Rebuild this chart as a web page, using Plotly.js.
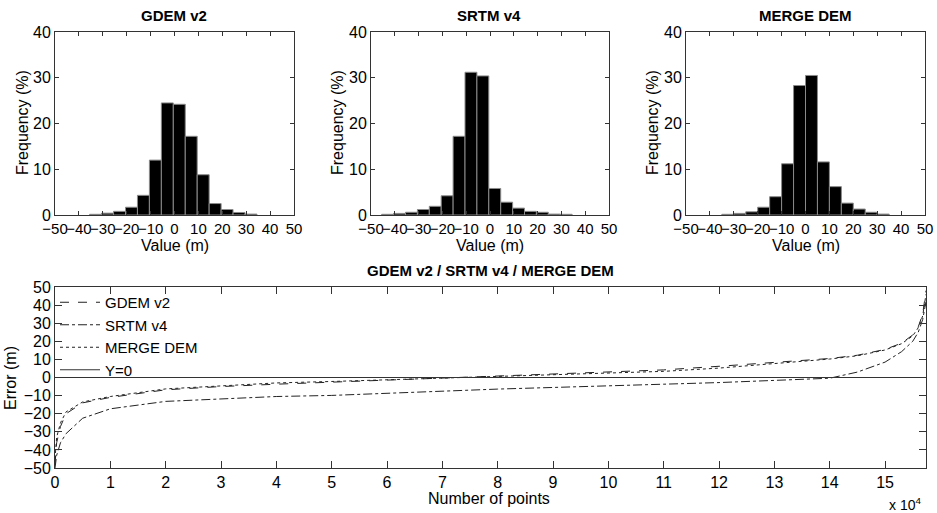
<!DOCTYPE html>
<html>
<head>
<meta charset="utf-8">
<script src="https://cdn.plot.ly/plotly-3.0.1.min.js"></script>
<style>html,body{margin:0;padding:0;background:#fff;}#chart{width:937px;height:513px;}</style>
</head>
<body>
<div id="chart"></div>
<script>
// ---- Histogram data (bin centres in m, frequency in %) ----
const gdemCenters = [-33,-28,-23,-18,-13,-8,-3,2,7,12,17,22,27,32];
const gdemFreq    = [0.15,0.4,0.8,1.7,4.3,12.0,24.5,24.2,17.2,8.8,2.5,1.2,0.55,0.2];
const srtmCenters = [-43,-38,-33,-28,-23,-18,-13,-8,-3,2,7,12,17,22,27,32];
const srtmFreq    = [0.15,0.35,0.6,1.2,1.9,4.2,17.2,31.2,30.4,5.8,2.8,1.5,0.8,0.6,0.2,0.15];
const mergeCenters = [-32.5,-27.5,-22.5,-17.5,-12.5,-7.5,-2.5,2.5,7.5,12.5,17.5,22.5,27.5,32.5];
const mergeFreq    = [0.15,0.35,0.7,1.7,4.0,11.2,28.3,30.5,11.6,6.2,2.6,1.3,0.6,0.2];

// ---- Sorted error curves (number of points, error in m) ----
const pointIdx  = [0,300,1000,2000,5000,10000,20000,30000,40000,50000,60000,70000,80000,90000,100000,110000,120000,130000,140000,145000,150000,153000,155000,156000,156800,157400];
const gdemErr   = [-48,-36,-27,-20,-14,-11,-6.8,-5,-3.7,-2.6,-1.4,-0.3,0.8,1.9,3.2,4.2,6.2,8.2,10.5,12.3,15.5,19,23.5,28,35,48];
const mergeErr  = [-45,-33,-25,-19,-13.5,-10.5,-6.3,-4.5,-3.0,-2.2,-1.2,-0.4,0.4,1.4,2.5,3.4,5.2,7.5,10.2,12,15.2,18.7,23,27.5,34,46];
const srtmErr   = [-50,-43,-36,-31,-22.5,-17.3,-13.2,-11.8,-10.5,-9.9,-8.6,-7.7,-6.4,-5.5,-4.4,-3.7,-2.8,-1.8,-0.4,3.0,8.5,14.3,20,25,32,42];
const zeroX = [0,157400];
const zeroY = [0,0];

// ---- Tick labels ----
const histTicks = [-50,-40,-30,-20,-10,0,10,20,30,40,50];
const freqTicks = [0,10,20,30,40];
const errTicks  = [-50,-40,-30,-20,-10,0,10,20,30,40,50];
const ptTickVals = [0,10000,20000,30000,40000,50000,60000,70000,80000,90000,100000,110000,120000,130000,140000,150000];
const ptTickText = ['0','1','2','3','4','5','6','7','8','9','10','11','12','13','14','15'];

const FONT = 'Liberation Sans, Arial, Helvetica, sans-serif';
const AX = '#333';

function barTrace(x, y, xa, ya) {
  return {type:'bar', x:x, y:y, xaxis:xa, yaxis:ya, width:5, showlegend:false,
    marker:{color:'#000', line:{color:'#8a8a8a', width:1}}, hoverinfo:'x+y'};
}
const traces = [
  barTrace(gdemCenters, gdemFreq, 'x', 'y'),
  barTrace(srtmCenters, srtmFreq, 'x2', 'y2'),
  barTrace(mergeCenters, mergeFreq, 'x3', 'y3'),
  {type:'scatter', mode:'lines', name:'GDEM v2', x:pointIdx, y:gdemErr, xaxis:'x4', yaxis:'y4', line:{color:'#222', width:1, dash:'dash'}},
  {type:'scatter', mode:'lines', name:'SRTM v4', x:pointIdx, y:srtmErr, xaxis:'x4', yaxis:'y4', line:{color:'#222', width:1, dash:'dashdot'}},
  {type:'scatter', mode:'lines', name:'MERGE DEM', x:pointIdx, y:mergeErr, xaxis:'x4', yaxis:'y4', line:{color:'#222', width:1, dash:'dot'}},
  {type:'scatter', mode:'lines', name:'Y=0', x:zeroX, y:zeroY, xaxis:'x4', yaxis:'y4', line:{color:'#333', width:1}}
];

function axBase(extra) {
  return Object.assign({showline:true, linecolor:AX, linewidth:1, mirror:'ticks', ticks:'inside', ticklen:4,
    tickcolor:AX, showgrid:false, zeroline:false, tickangle:0, fixedrange:true,
    tickfont:{family:FONT, size:16, color:'#000'}}, extra);
}
const W = 937, H = 513;
const dx = (a,b) => [a/W, b/W];
const dy = (top,bot) => [(H-bot)/H, (H-top)/H];
function note(text, px, py, size, angle) {
  return {text:text, x:px/W, y:(H-py)/H, xref:'paper', yref:'paper', xanchor:'center', yanchor:'middle',
    showarrow:false, textangle:angle||0, font:{family:FONT, size:size, color:'#000'}};
}
const histX = {range:[-50,50], tickvals:histTicks, tickfont:{family:FONT, size:15, color:'#000'}};

const layout = {
  width:W, height:H, margin:{l:0,r:0,t:0,b:0}, paper_bgcolor:'#fff', plot_bgcolor:'#fff',
  font:{family:FONT, color:'#000'}, bargap:0,
  xaxis:  axBase(Object.assign({domain:dx(55,294),  anchor:'y'}, histX)),
  yaxis:  axBase({domain:dy(32,215),  range:[0,40], tickvals:freqTicks, anchor:'x'}),
  xaxis2: axBase(Object.assign({domain:dx(371,609), anchor:'y2'}, histX)),
  yaxis2: axBase({domain:dy(32,215),  range:[0,40], tickvals:freqTicks, anchor:'x2'}),
  xaxis3: axBase(Object.assign({domain:dx(686,925), anchor:'y3'}, histX)),
  yaxis3: axBase({domain:dy(32,215),  range:[0,40], tickvals:freqTicks, anchor:'x3'}),
  xaxis4: axBase({domain:dx(55,926),  range:[0,157400], tickvals:ptTickVals, ticktext:ptTickText, ticklen:7, anchor:'y4'}),
  yaxis4: axBase({domain:dy(287,468), range:[-50,50], tickvals:errTicks, ticklen:7, anchor:'x4'}),
  showlegend:true,
  legend:{x:55/W, y:(H-286)/H, xanchor:'left', yanchor:'top', bgcolor:'rgba(0,0,0,0)', borderwidth:0,
    itemwidth:40, font:{family:FONT, size:15, color:'#000'}, tracegroupgap:0},
  annotations:[
    note('<b>GDEM v2</b>', 174, 15, 15),
    note('<b>SRTM v4</b>', 489, 15, 15),
    note('<b>MERGE DEM</b>', 805, 15, 15),
    note('<b>GDEM v2 / SRTM v4 / MERGE DEM</b>', 490, 270, 15),
    note('Value (m)', 175, 245, 16),
    note('Value (m)', 490, 245, 16),
    note('Value (m)', 806, 245, 16),
    note('Frequency (%)', 22, 123, 16, -90),
    note('Frequency (%)', 337, 123, 16, -90),
    note('Frequency (%)', 652, 123, 16, -90),
    note('Error (m)', 10, 378, 16, -90),
    note('Number of points', 489, 498, 16),
    note('x 10<sup>4</sup>', 905, 504, 14)
  ]
};
Plotly.newPlot('chart', traces, layout, {staticPlot:true, displayModeBar:false});
</script>
</body>
</html>
